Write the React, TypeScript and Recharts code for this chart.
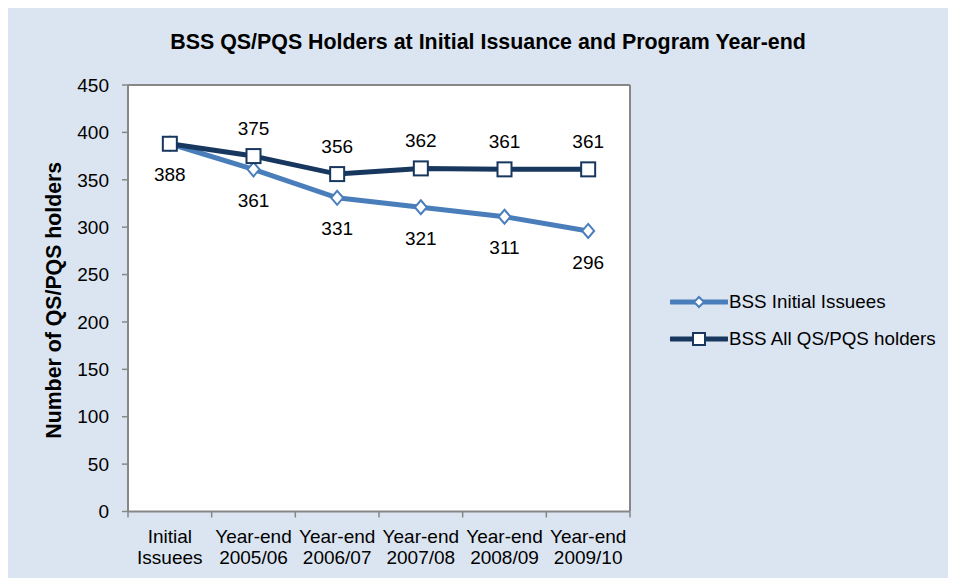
import React from 'react';
import { LineChart, Line, XAxis, YAxis, CartesianGrid, ReferenceLine, LabelList } from 'recharts';

const categories: string[][] = [
  ['Initial', 'Issuees'],
  ['Year-end', '2005/06'],
  ['Year-end', '2006/07'],
  ['Year-end', '2007/08'],
  ['Year-end', '2008/09'],
  ['Year-end', '2009/10'],
];
const initialIssuees = [388, 361, 331, 321, 311, 296];
const allHolders = [388, 375, 356, 362, 361, 361];
const yTicks = [0, 50, 100, 150, 200, 250, 300, 350, 400, 450];
const seriesNames = ['BSS Initial Issuees', 'BSS All QS/PQS holders'];
const chartTitle = 'BSS QS/PQS Holders at Initial Issuance and Program Year-end';
const yAxisTitle = 'Number of QS/PQS holders';

const LIGHT = '#4a7ebb';
const DARK = '#17375e';
const GRAY = '#878787';
const BG = '#dbe5f1';
const FONT = '"Liberation Sans", Arial, sans-serif';

const data = categories.map((c, i) => ({
  pos: i + 0.5,
  initial: initialIssuees[i],
  all: allHolders[i],
}));
const xTicks: number[] = categories.flatMap((_, i) => [i, i + 0.5]).concat([categories.length]);

const W = 948;
const H = 570;

const XTick = (props: any) => {
  const { x, y, payload } = props;
  const v = payload.value as number;
  if (Number.isInteger(v)) {
    return <line x1={x} x2={x} y1={y - 6} y2={y} stroke={GRAY} strokeWidth={1.5} />;
  }
  const lines = categories[Math.floor(v)];
  return (
    <text x={x} y={y} textAnchor="middle" fontSize={19} fill="#000" fontFamily={FONT}>
      <tspan x={x} dy={25}>{lines[0]}</tspan>
      <tspan x={x} dy={21}>{lines[1]}</tspan>
    </text>
  );
};

const Diamond = (props: any) => {
  const { cx, cy, index } = props;
  if (cx == null || cy == null) return <g key={index} />;
  return (
    <path
      key={index}
      d={`M${cx},${cy - 7} L${cx + 6},${cy} L${cx},${cy + 7} L${cx - 6},${cy} Z`}
      fill="#fff"
      stroke={LIGHT}
      strokeWidth={2}
    />
  );
};

const Square = (props: any) => {
  const { cx, cy, index } = props;
  if (cx == null || cy == null) return <g key={index} />;
  return <rect key={index} x={cx - 7} y={cy - 7} width={14} height={14} fill="#fff" stroke={DARK} strokeWidth={2} />;
};

const BelowLabel = (props: any) => {
  const { x, y, value } = props;
  return (
    <text x={x} y={y + 31} dy="0.35em" textAnchor="middle" fontSize={19} fill="#000" fontFamily={FONT}>
      {value}
    </text>
  );
};

const AboveLabel = (props: any) => {
  const { x, y, value, index } = props;
  if (index === 0) return null;
  return (
    <text x={x} y={y - 28} dy="0.35em" textAnchor="middle" fontSize={19} fill="#000" fontFamily={FONT}>
      {value}
    </text>
  );
};

const YTitle = (props: any) => {
  const { viewBox } = props;
  const cy = viewBox.y + viewBox.height / 2 + 2;
  const cx = 46;
  return (
    <text
      x={cx}
      y={cy}
      transform={`rotate(-90, ${cx}, ${cy})`}
      textAnchor="middle"
      dy="0.35em"
      fontSize={21.3}
      fontWeight="bold"
      fill="#000"
      fontFamily={FONT}
    >
      {yAxisTitle}
    </text>
  );
};

const LegendRow = ({ color, kind, label }: { color: string; kind: 'diamond' | 'square'; label: string }) => (
  <div style={{ display: 'flex', alignItems: 'center', height: 37.6 }}>
    <svg width={58} height={20} style={{ display: 'block' }}>
      <line x1={1} x2={57} y1={10} y2={10} stroke={color} strokeWidth={5} strokeLinecap="round" />
      {kind === 'diamond' ? (
        <path d="M29,5 L34,10 L29,15 L24,10 Z" fill="#fff" stroke={color} strokeWidth={2} />
      ) : (
        <rect x={23} y={4} width={12} height={12} fill="#fff" stroke={color} strokeWidth={2} />
      )}
    </svg>
    <span style={{ fontSize: 18.8, fontFamily: FONT, color: '#000', marginLeft: 1, whiteSpace: 'nowrap' }}>{label}</span>
  </div>
);

export default function App() {
  return (
    <div style={{ position: 'relative', width: W, height: H, background: BG, fontFamily: FONT }}>
      <div
        style={{
          position: 'absolute',
          left: 0,
          top: 22,
          width: W + 12,
          textAlign: 'center',
          fontSize: 21.4,
          fontWeight: 'bold',
          color: '#000',
          whiteSpace: 'nowrap',
        }}
      >
        {chartTitle}
      </div>
      <LineChart width={W} height={H} data={data} margin={{ top: 77, right: 326, bottom: 0, left: 0 }}>
        <CartesianGrid horizontal={false} vertical={false} fill="#fff" />
        <XAxis
          dataKey="pos"
          type="number"
          domain={[0, categories.length]}
          ticks={xTicks}
          interval={0}
          tickLine={false}
          tickSize={6}
          tickMargin={0}
          tick={<XTick />}
          axisLine={{ stroke: GRAY, strokeWidth: 2 }}
          height={66.5}
        />
        <YAxis
          type="number"
          domain={[0, 450]}
          ticks={yTicks}
          interval={0}
          width={120}
          tickSize={6}
          tickMargin={13}
          tickLine={{ stroke: GRAY, strokeWidth: 1.5 }}
          axisLine={{ stroke: GRAY, strokeWidth: 2 }}
          tick={{ fontSize: 19, fill: '#000', fontFamily: FONT }}
          label={<YTitle />}
        />
        <ReferenceLine y={450} stroke={GRAY} strokeWidth={2} />
        <ReferenceLine x={categories.length} stroke={GRAY} strokeWidth={2} />
        <Line
          dataKey="initial"
          name={seriesNames[0]}
          stroke={LIGHT}
          strokeWidth={5}
          dot={<Diamond />}
          isAnimationActive={false}
        >
          <LabelList dataKey="initial" content={<BelowLabel />} />
        </Line>
        <Line
          dataKey="all"
          name={seriesNames[1]}
          stroke={DARK}
          strokeWidth={5}
          dot={<Square />}
          isAnimationActive={false}
        >
          <LabelList dataKey="all" content={<AboveLabel />} />
        </Line>
      </LineChart>
      <div style={{ position: 'absolute', left: 662, top: 275 }}>
        <LegendRow color={LIGHT} kind="diamond" label={seriesNames[0]} />
        <LegendRow color={DARK} kind="square" label={seriesNames[1]} />
      </div>
    </div>
  );
}
